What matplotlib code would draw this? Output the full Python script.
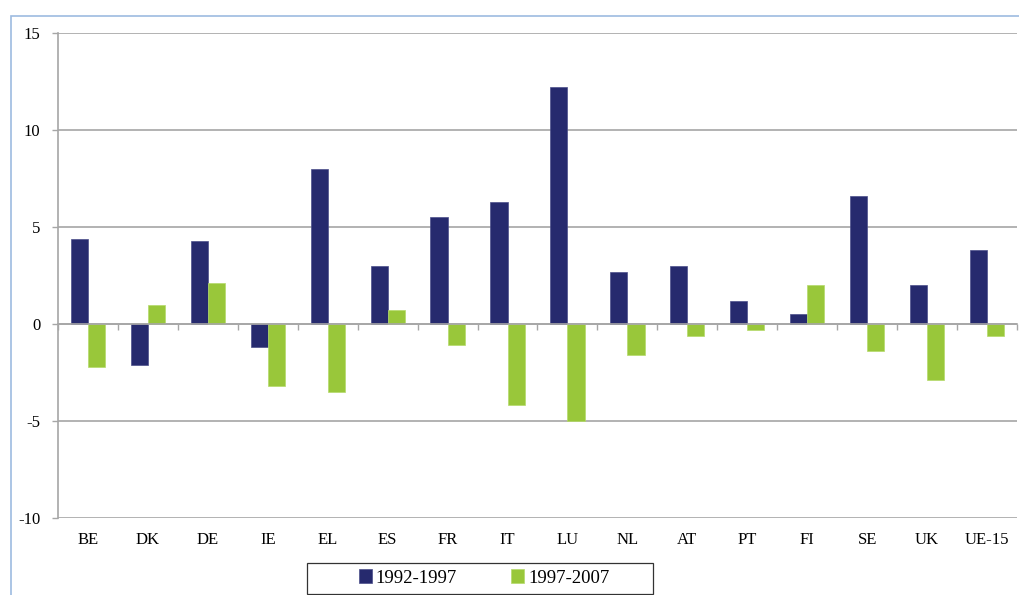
import numpy as np
import matplotlib.pyplot as plt
from matplotlib.patches import Rectangle

plt.rcParams['font.family'] = ['Liberation Serif', 'DejaVu Serif']

# data
countries = ["BE", "DK", "DE", "IE", "EL", "ES", "FR", "IT", "LU", "NL",
             "AT", "PT", "FI", "SE", "UK", "UE-15"]
p1992_1997 = [4.4, -2.1, 4.3, -1.2, 8.0, 3.0, 5.5, 6.3, 12.2, 2.7,
              3.0, 1.2, 0.5, 6.6, 2.0, 3.8]
p1997_2007 = [-2.2, 1.0, 2.1, -3.2, -3.5, 0.7, -1.1, -4.2, -5.0, -1.6,
              -0.6, -0.3, 2.0, -1.4, -2.9, -0.6]
series_labels = ["1992-1997", "1997-2007"]
yticks = [-10, -5, 0, 5, 10, 15]

blue = "#262A6E"
green = "#99C73A"
grid_col = "#A6A6A6"

W, H = 1020, 595
fig = plt.figure(figsize=(W / 100, H / 100), dpi=100)
ax = fig.add_axes([58 / W, 1 - 518 / H, (1017 - 58) / W, (518 - 33) / H])

# light blue frame of the chart area (cropped at right/bottom)
fig.patches.append(Rectangle((11 / W, -0.1), 1.2, 1 - 16 / H + 0.1,
                             transform=fig.transFigure, fill=False,
                             edgecolor="#9DBBE0", linewidth=1.2))

x = np.arange(len(countries))
bw = 1 / 3.5
b1 = ax.bar(x - bw / 2, p1992_1997, bw, color=blue, label=series_labels[0],
            edgecolor="#4B4F8A", linewidth=0.5)
b2 = ax.bar(x + bw / 2, p1997_2007, bw, color=green, label=series_labels[1],
            edgecolor="#B5DA6A", linewidth=0.5)

ax.set_xlim(-0.5, len(countries) - 0.5)
ax.set_ylim(-10, 15)
ax.set_yticks(yticks)
ax.set_yticklabels([str(v) for v in yticks], fontsize=12)
ax.yaxis.grid(True, color=grid_col, linewidth=1.2)
ax.set_axisbelow(True)
ax.tick_params(axis='y', length=4.3, color=grid_col, width=1, pad=8.5)

for s in ["top", "right"]:
    ax.spines[s].set_visible(False)
ax.spines["left"].set_color(grid_col)
ax.spines["left"].set_linewidth(1.2)
ax.spines["bottom"].set_position(("data", 0))
ax.spines["bottom"].set_color(grid_col)
ax.spines["bottom"].set_linewidth(1.2)

# category boundary ticks on zero line
ax.set_xticks(np.arange(len(countries) + 1) - 0.5)
ax.set_xticklabels([])
ax.tick_params(axis='x', length=4, color=grid_col, width=1, direction='out')

# category labels below the plot
sec = ax.secondary_xaxis(0)
sec.set_xticks(x)
sec.set_xticklabels(countries, fontsize=12)
sec.tick_params(length=0, pad=10)
sec.spines["bottom"].set_visible(False)

# legend box
fig.patches.append(Rectangle((307 / W, 1 - 594 / H), (653 - 307) / W, 31 / H,
                             transform=fig.transFigure, fill=False,
                             edgecolor="#333333", linewidth=0.9))
leg = fig.legend(handles=[b1, b2], loc="center",
                 bbox_to_anchor=(484 / W, 1 - 578 / H), ncol=2, frameon=False,
                 fontsize=13.5, handlelength=0.7, handleheight=0.7,
                 columnspacing=2.9, handletextpad=0.2, borderpad=0,
                 borderaxespad=0)

fig.savefig("out.png", dpi=100)
